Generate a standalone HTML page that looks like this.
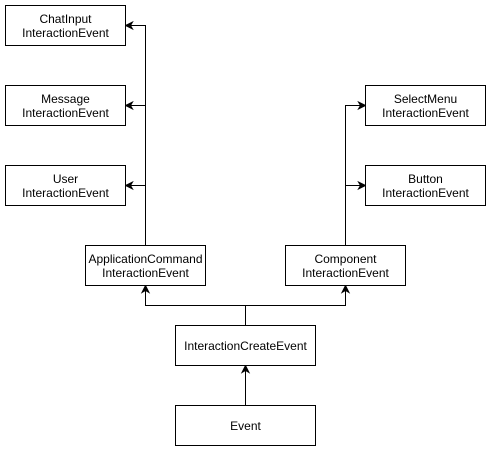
<!DOCTYPE html>
<html><head><meta charset="utf-8"><style>
html,body{margin:0;padding:0;background:#fff;width:491px;height:451px;overflow:hidden}
svg{display:block}
text{font-family:"Liberation Sans",Arial,sans-serif;font-size:12px;fill:#000;text-anchor:middle}
rect{fill:#fff;stroke:#000;stroke-width:1}
.l{stroke:#000;stroke-width:1;fill:none}
.a{fill:#000;stroke:#000;stroke-width:1}
</style></head><body>
<svg width="491" height="451" viewBox="0 0 491 451">
<!-- connectors -->
<path class="l" d="M145.5 245 V25.5 H130"/>
<path class="l" d="M145.5 105.5 H130"/>
<path class="l" d="M145.5 185.5 H130"/>
<path class="l" d="M345.5 245 V105.5 H360"/>
<path class="l" d="M345.5 185.5 H360"/>
<path class="l" d="M245.5 325 V305.5 H145.5 V290"/>
<path class="l" d="M245.5 305.5 H345.5 V290"/>
<path class="l" d="M245.5 405 V370"/>
<!-- arrowheads -->
<path class="a" d="M125.5 25.5 L132.5 22 L130.5 25.5 L132.5 29 Z"/>
<path class="a" d="M125.5 105.5 L132.5 102 L130.5 105.5 L132.5 109 Z"/>
<path class="a" d="M125.5 185.5 L132.5 182 L130.5 185.5 L132.5 189 Z"/>
<path class="a" d="M365.5 105.5 L358.5 102 L360.5 105.5 L358.5 109 Z"/>
<path class="a" d="M365.5 185.5 L358.5 182 L360.5 185.5 L358.5 189 Z"/>
<path class="a" d="M145.5 285.5 L142 292.5 L145.5 290.5 L149 292.5 Z"/>
<path class="a" d="M345.5 285.5 L342 292.5 L345.5 290.5 L349 292.5 Z"/>
<path class="a" d="M245.5 365.5 L242 372.5 L245.5 370.5 L249 372.5 Z"/>
<!-- boxes -->
<rect x="5.5" y="5.5" width="120" height="40"/>
<text x="65.5" y="23">ChatInput</text><text x="65.5" y="37">InteractionEvent</text>
<rect x="5.5" y="85.5" width="120" height="40"/>
<text x="65.5" y="103">Message</text><text x="65.5" y="117">InteractionEvent</text>
<rect x="5.5" y="165.5" width="120" height="40"/>
<text x="65.5" y="183">User</text><text x="65.5" y="197">InteractionEvent</text>
<rect x="85.5" y="245.5" width="120" height="40"/>
<text x="145.5" y="263">ApplicationCommand</text><text x="145.5" y="277">InteractionEvent</text>
<rect x="285.5" y="245.5" width="120" height="40"/>
<text x="345.5" y="263">Component</text><text x="345.5" y="277">InteractionEvent</text>
<rect x="365.5" y="85.5" width="120" height="40"/>
<text x="425.5" y="103">SelectMenu</text><text x="425.5" y="117">InteractionEvent</text>
<rect x="365.5" y="165.5" width="120" height="40"/>
<text x="425.5" y="183">Button</text><text x="425.5" y="197">InteractionEvent</text>
<rect x="175.5" y="325.5" width="140" height="40"/>
<text x="245.5" y="350">InteractionCreateEvent</text>
<rect x="175.5" y="405.5" width="140" height="40"/>
<text x="245.5" y="430">Event</text>
</svg>
</body></html>
